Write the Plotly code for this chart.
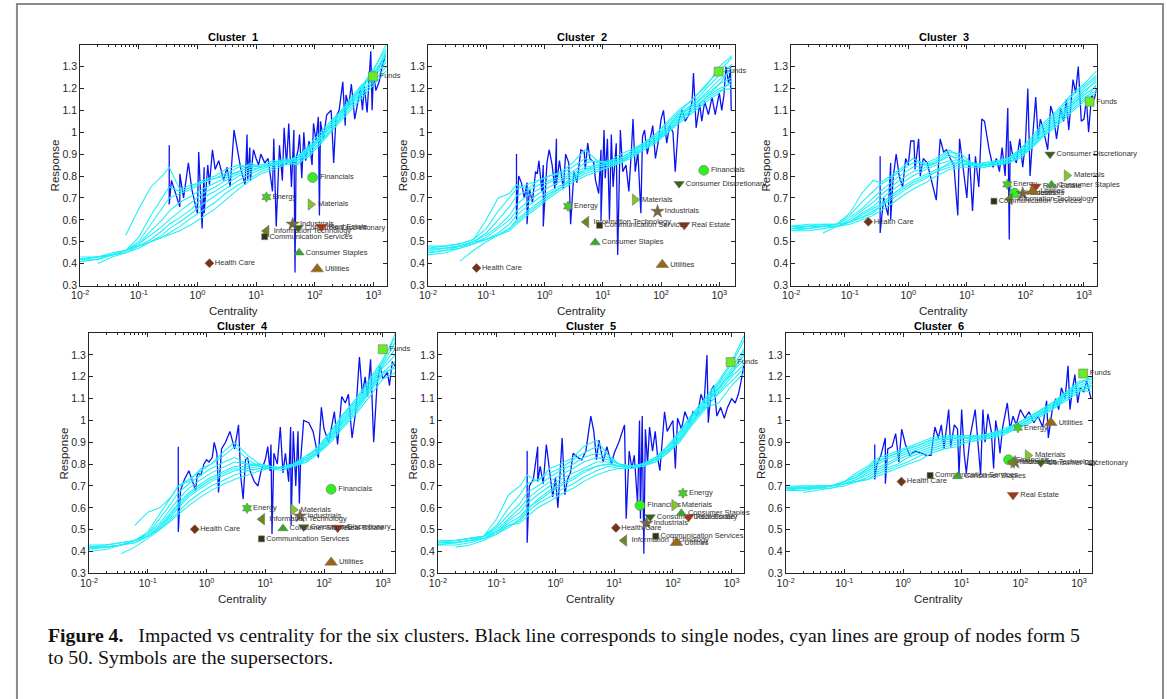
import plotly.graph_objects as go

W, H = 1167, 699

# ---------------- data ----------------
# common centrality grid for the cyan (group) curves
G = [0.01, 0.02, 0.035, 0.06, 0.1, 0.16, 0.25, 0.33, 0.5, 0.8, 1.2, 2, 3, 5, 8, 12, 20, 30, 50, 80, 130, 200, 350, 600, 1000, 1650]

c1_lines = [
    [None, None, None, 0.53, 0.65, 0.75, 0.80, 0.84, 0.74, 0.76, 0.77, 0.79, 0.80, 0.82, 0.86, 0.84, 0.86, 0.87, 0.85, 0.90, 0.96, 1.02, 1.10, 1.18, 1.28, 1.40],
    [0.42, 0.43, 0.44, 0.46, 0.52, 0.62, 0.70, 0.75, 0.73, 0.75, 0.78, 0.80, 0.83, 0.85, 0.84, 0.85, 0.87, 0.86, 0.88, 0.93, 0.98, 1.04, 1.12, 1.20, 1.29, 1.38],
    [0.41, 0.42, 0.44, 0.46, 0.50, 0.58, 0.65, 0.70, 0.72, 0.74, 0.77, 0.79, 0.81, 0.84, 0.85, 0.84, 0.86, 0.88, 0.87, 0.92, 0.99, 1.05, 1.11, 1.19, 1.27, 1.35],
    [0.42, 0.43, 0.45, 0.46, 0.49, 0.55, 0.60, 0.64, 0.68, 0.71, 0.74, 0.77, 0.79, 0.82, 0.84, 0.85, 0.85, 0.87, 0.88, 0.94, 1.00, 1.06, 1.12, 1.20, 1.27, 1.33],
    [0.43, 0.43, 0.44, 0.46, 0.49, 0.53, 0.57, 0.60, 0.64, 0.68, 0.72, 0.75, 0.78, 0.81, 0.83, 0.84, 0.86, 0.86, 0.89, 0.93, 0.99, 1.05, 1.13, 1.21, 1.26, 1.37],
    [0.41, 0.42, 0.44, 0.46, 0.48, 0.51, 0.55, 0.58, 0.61, 0.65, 0.70, 0.73, 0.76, 0.80, 0.82, 0.84, 0.85, 0.87, 0.88, 0.92, 0.97, 1.04, 1.11, 1.17, 1.25, 1.32],
    [None, 0.40, 0.43, 0.45, 0.48, 0.50, 0.53, 0.56, 0.59, 0.63, 0.67, 0.71, 0.74, 0.78, 0.81, 0.83, 0.85, 0.86, 0.87, 0.91, 0.98, 1.03, 1.10, 1.18, 1.24, 1.36],
    [0.42, 0.43, 0.44, 0.45, 0.47, 0.50, 0.52, 0.54, 0.57, 0.61, 0.64, 0.68, 0.72, 0.76, 0.79, 0.82, 0.84, 0.86, 0.87, 0.90, 0.96, 1.02, 1.09, 1.16, 1.23, 1.30],
    [0.42, 0.42, 0.44, 0.46, 0.48, 0.50, 0.52, 0.53, 0.55, 0.58, 0.61, 0.65, 0.69, 0.74, 0.78, 0.81, 0.83, 0.85, 0.86, 0.89, 0.95, 1.01, 1.08, 1.15, 1.22, 1.28],
]
c2_lines = [
    [0.48, 0.48, 0.49, 0.51, 0.60, 0.70, 0.72, 0.76, 0.74, 0.78, 0.80, 0.82, 0.86, 0.92, 0.87, 0.86, 0.90, 0.92, 0.95, 0.99, 1.05, 1.10, 1.15, 1.22, 1.28, 1.34],
    [0.47, 0.48, 0.49, 0.51, 0.56, 0.64, 0.70, 0.74, 0.76, 0.78, 0.80, 0.81, 0.84, 0.88, 0.86, 0.87, 0.88, 0.91, 0.94, 0.99, 1.04, 1.09, 1.15, 1.21, 1.30, 1.35],
    [0.46, 0.47, 0.48, 0.50, 0.54, 0.60, 0.66, 0.71, 0.73, 0.76, 0.78, 0.80, 0.82, 0.86, 0.87, 0.86, 0.88, 0.91, 0.95, 0.98, 1.03, 1.08, 1.13, 1.20, 1.26, 1.31],
    [0.45, 0.46, 0.48, 0.50, 0.53, 0.57, 0.62, 0.67, 0.71, 0.74, 0.77, 0.79, 0.81, 0.84, 0.85, 0.86, 0.87, 0.90, 0.94, 0.98, 1.02, 1.08, 1.12, 1.18, 1.24, 1.28],
    [0.45, 0.46, 0.47, 0.49, 0.52, 0.56, 0.60, 0.64, 0.68, 0.72, 0.75, 0.78, 0.80, 0.83, 0.85, 0.85, 0.87, 0.89, 0.93, 0.97, 1.02, 1.07, 1.12, 1.17, 1.22, 1.25],
    [0.44, 0.45, 0.47, 0.49, 0.51, 0.54, 0.58, 0.62, 0.66, 0.70, 0.73, 0.76, 0.79, 0.82, 0.84, 0.85, 0.86, 0.89, 0.93, 0.96, 1.01, 1.06, 1.11, 1.16, 1.20, 1.22],
    [None, None, 0.41, 0.46, 0.50, 0.53, 0.56, 0.60, 0.64, 0.68, 0.72, 0.75, 0.78, 0.81, 0.83, 0.84, 0.86, 0.89, 0.92, 0.96, 1.00, 1.05, 1.10, 1.15, 1.19, 1.20],
    [0.47, 0.47, 0.48, 0.50, 0.51, 0.53, 0.55, 0.58, 0.62, 0.66, 0.70, 0.74, 0.77, 0.80, 0.82, 0.84, 0.86, 0.88, 0.92, 0.95, 1.00, 1.04, 1.09, 1.14, 1.18, 1.24],
    [0.46, 0.47, 0.48, 0.49, 0.51, 0.53, 0.56, 0.59, 0.63, 0.67, 0.71, 0.75, 0.79, 0.83, 0.84, 0.85, 0.87, 0.90, 0.93, 0.97, 1.01, 1.06, 1.10, 1.16, 1.22, 1.30],
]
c3_lines = [
    [0.57, 0.58, 0.58, 0.58, 0.63, 0.72, 0.78, 0.77, 0.80, 0.84, 0.88, 0.85, 0.86, 0.90, 0.86, 0.85, 0.86, 0.86, 0.88, 0.92, 0.98, 1.04, 1.10, 1.17, 1.22, 1.28],
    [0.56, 0.57, 0.58, 0.58, 0.62, 0.68, 0.73, 0.76, 0.79, 0.83, 0.86, 0.86, 0.88, 0.92, 0.88, 0.85, 0.86, 0.87, 0.88, 0.92, 0.97, 1.03, 1.09, 1.16, 1.21, 1.26],
    [0.57, 0.57, 0.57, 0.58, 0.61, 0.65, 0.70, 0.73, 0.77, 0.81, 0.84, 0.85, 0.87, 0.91, 0.90, 0.86, 0.85, 0.86, 0.88, 0.91, 0.96, 1.02, 1.08, 1.14, 1.20, 1.25],
    [0.56, 0.56, 0.57, 0.57, 0.60, 0.64, 0.68, 0.71, 0.75, 0.79, 0.82, 0.84, 0.86, 0.89, 0.88, 0.86, 0.85, 0.86, 0.87, 0.91, 0.95, 1.01, 1.07, 1.13, 1.19, 1.23],
    [0.55, 0.56, 0.57, 0.57, 0.59, 0.63, 0.66, 0.69, 0.73, 0.77, 0.80, 0.83, 0.85, 0.87, 0.87, 0.86, 0.85, 0.86, 0.87, 0.90, 0.95, 1.00, 1.06, 1.12, 1.17, 1.21],
    [0.55, 0.55, 0.56, 0.57, 0.59, 0.62, 0.65, 0.67, 0.71, 0.75, 0.78, 0.81, 0.83, 0.85, 0.86, 0.85, 0.85, 0.85, 0.86, 0.89, 0.94, 0.99, 1.05, 1.11, 1.16, 1.19],
    [None, None, 0.54, 0.57, 0.59, 0.61, 0.63, 0.66, 0.69, 0.73, 0.76, 0.79, 0.82, 0.84, 0.85, 0.85, 0.84, 0.85, 0.86, 0.89, 0.93, 0.98, 1.04, 1.10, 1.15, 1.18],
    [0.57, 0.57, 0.57, 0.57, 0.58, 0.60, 0.62, 0.64, 0.67, 0.71, 0.74, 0.77, 0.80, 0.83, 0.84, 0.84, 0.84, 0.85, 0.86, 0.88, 0.93, 0.98, 1.03, 1.09, 1.14, 1.22],
    [0.56, 0.57, 0.57, 0.58, 0.59, 0.61, 0.64, 0.66, 0.70, 0.74, 0.77, 0.80, 0.82, 0.86, 0.86, 0.85, 0.85, 0.85, 0.87, 0.90, 0.94, 0.99, 1.05, 1.12, 1.18, 1.24],
]
c4_lines = [
    [None, None, None, 0.52, 0.58, 0.60, 0.65, 0.70, 0.72, 0.78, 0.80, 0.86, 0.90, 0.84, 0.80, 0.79, 0.78, 0.80, 0.83, 0.88, 0.95, 1.02, 1.10, 1.19, 1.28, 1.38],
    [0.43, 0.43, 0.44, 0.45, 0.49, 0.57, 0.65, 0.70, 0.73, 0.77, 0.80, 0.84, 0.88, 0.82, 0.79, 0.78, 0.78, 0.80, 0.83, 0.88, 0.95, 1.02, 1.09, 1.18, 1.27, 1.40],
    [0.42, 0.42, 0.43, 0.45, 0.48, 0.55, 0.62, 0.67, 0.71, 0.75, 0.78, 0.81, 0.83, 0.80, 0.80, 0.78, 0.77, 0.80, 0.84, 0.87, 0.94, 1.01, 1.08, 1.17, 1.26, 1.36],
    [0.41, 0.42, 0.43, 0.45, 0.48, 0.53, 0.60, 0.64, 0.69, 0.73, 0.76, 0.79, 0.81, 0.80, 0.79, 0.79, 0.78, 0.80, 0.83, 0.87, 0.93, 1.00, 1.07, 1.16, 1.25, 1.33],
    [0.40, 0.41, 0.43, 0.44, 0.47, 0.52, 0.58, 0.62, 0.67, 0.71, 0.74, 0.77, 0.79, 0.79, 0.80, 0.79, 0.78, 0.80, 0.82, 0.86, 0.92, 0.99, 1.06, 1.15, 1.24, 1.30],
    [0.41, 0.42, 0.43, 0.44, 0.47, 0.51, 0.56, 0.60, 0.65, 0.69, 0.72, 0.75, 0.77, 0.78, 0.79, 0.79, 0.78, 0.79, 0.82, 0.86, 0.92, 0.98, 1.05, 1.14, 1.22, 1.27],
    [None, None, 0.39, 0.42, 0.46, 0.50, 0.55, 0.58, 0.63, 0.67, 0.70, 0.73, 0.75, 0.77, 0.78, 0.78, 0.78, 0.79, 0.81, 0.85, 0.91, 0.97, 1.04, 1.13, 1.21, 1.25],
    [0.42, 0.43, 0.44, 0.45, 0.47, 0.50, 0.54, 0.57, 0.61, 0.65, 0.68, 0.71, 0.73, 0.75, 0.77, 0.78, 0.78, 0.79, 0.81, 0.85, 0.90, 0.96, 1.03, 1.11, 1.19, 1.22],
    [0.42, 0.42, 0.43, 0.45, 0.47, 0.51, 0.57, 0.61, 0.66, 0.70, 0.73, 0.76, 0.78, 0.77, 0.78, 0.78, 0.79, 0.80, 0.82, 0.86, 0.92, 0.99, 1.06, 1.15, 1.22, 1.24],
]
c5_lines = [
    [0.45, 0.45, 0.46, 0.47, 0.55, 0.66, 0.70, 0.75, 0.72, 0.78, 0.80, 0.83, 0.88, 0.91, 0.84, 0.80, 0.79, 0.80, 0.83, 0.88, 0.95, 1.02, 1.10, 1.18, 1.27, 1.39],
    [0.44, 0.45, 0.46, 0.47, 0.52, 0.60, 0.66, 0.71, 0.73, 0.76, 0.78, 0.82, 0.85, 0.88, 0.84, 0.80, 0.78, 0.80, 0.83, 0.88, 0.94, 1.01, 1.09, 1.17, 1.26, 1.37],
    [0.44, 0.44, 0.45, 0.47, 0.51, 0.57, 0.62, 0.67, 0.70, 0.74, 0.77, 0.80, 0.83, 0.85, 0.83, 0.80, 0.79, 0.79, 0.83, 0.87, 0.94, 1.01, 1.08, 1.16, 1.24, 1.33],
    [0.43, 0.44, 0.45, 0.47, 0.50, 0.55, 0.60, 0.64, 0.68, 0.72, 0.75, 0.78, 0.81, 0.83, 0.82, 0.80, 0.79, 0.80, 0.82, 0.87, 0.93, 1.00, 1.08, 1.15, 1.23, 1.30],
    [0.44, 0.44, 0.45, 0.46, 0.49, 0.54, 0.58, 0.62, 0.66, 0.70, 0.73, 0.76, 0.78, 0.81, 0.81, 0.79, 0.79, 0.79, 0.82, 0.86, 0.92, 0.99, 1.07, 1.14, 1.22, 1.28],
    [0.43, 0.43, 0.44, 0.46, 0.49, 0.53, 0.56, 0.60, 0.63, 0.67, 0.70, 0.73, 0.76, 0.79, 0.80, 0.79, 0.79, 0.80, 0.82, 0.86, 0.92, 0.99, 1.06, 1.12, 1.18, 1.24],
    [None, 0.42, 0.43, 0.45, 0.48, 0.52, 0.54, 0.58, 0.62, 0.65, 0.68, 0.71, 0.74, 0.77, 0.79, 0.78, 0.79, 0.79, 0.81, 0.85, 0.91, 0.98, 1.06, 1.08, 1.16, 1.22],
    [0.45, 0.45, 0.46, 0.47, 0.49, 0.52, 0.53, 0.56, 0.60, 0.63, 0.66, 0.69, 0.72, 0.75, 0.77, 0.78, 0.78, 0.79, 0.81, 0.85, 0.90, 0.97, 1.05, 1.13, 1.20, 1.26],
    [0.44, 0.44, 0.45, 0.46, 0.48, 0.51, 0.55, 0.59, 0.64, 0.68, 0.71, 0.74, 0.77, 0.79, 0.80, 0.79, 0.79, 0.80, 0.82, 0.86, 0.91, 0.98, 1.07, 1.15, 1.21, 1.32],
]
c6_lines = [
    [0.70, 0.70, 0.70, 0.70, 0.72, 0.76, 0.79, 0.82, 0.84, 0.86, 0.88, 0.90, 0.92, 0.93, 0.93, 0.92, 0.93, 0.94, 0.95, 0.98, 1.01, 1.04, 1.08, 1.13, 1.17, 1.20],
    [0.69, 0.70, 0.70, 0.70, 0.72, 0.75, 0.78, 0.81, 0.83, 0.85, 0.87, 0.89, 0.91, 0.92, 0.92, 0.93, 0.93, 0.94, 0.95, 0.98, 1.01, 1.04, 1.08, 1.12, 1.17, 1.19],
    [0.69, 0.69, 0.70, 0.70, 0.72, 0.74, 0.77, 0.79, 0.82, 0.84, 0.86, 0.88, 0.90, 0.92, 0.92, 0.92, 0.93, 0.93, 0.95, 0.97, 1.00, 1.03, 1.07, 1.12, 1.16, 1.18],
    [0.69, 0.69, 0.69, 0.70, 0.71, 0.73, 0.76, 0.78, 0.80, 0.83, 0.85, 0.87, 0.89, 0.91, 0.92, 0.92, 0.92, 0.93, 0.95, 0.97, 1.00, 1.03, 1.07, 1.11, 1.15, 1.17],
    [0.68, 0.69, 0.69, 0.70, 0.71, 0.73, 0.75, 0.77, 0.79, 0.82, 0.84, 0.86, 0.88, 0.90, 0.91, 0.92, 0.92, 0.93, 0.94, 0.97, 1.00, 1.03, 1.06, 1.11, 1.15, 1.16],
    [0.68, 0.68, 0.69, 0.69, 0.71, 0.72, 0.74, 0.76, 0.78, 0.80, 0.83, 0.85, 0.87, 0.89, 0.90, 0.91, 0.92, 0.92, 0.94, 0.96, 0.99, 1.02, 1.06, 1.10, 1.14, 1.15],
    [None, 0.67, 0.68, 0.69, 0.70, 0.72, 0.73, 0.75, 0.77, 0.79, 0.81, 0.84, 0.86, 0.88, 0.89, 0.90, 0.91, 0.92, 0.94, 0.96, 0.99, 1.02, 1.05, 1.10, 1.14, 1.13],
    [0.69, 0.69, 0.70, 0.70, 0.71, 0.72, 0.73, 0.74, 0.76, 0.78, 0.80, 0.82, 0.85, 0.87, 0.88, 0.90, 0.91, 0.92, 0.93, 0.96, 0.98, 1.01, 1.05, 1.09, 1.13, 1.16],
    [0.69, 0.69, 0.69, 0.70, 0.72, 0.74, 0.78, 0.80, 0.83, 0.85, 0.87, 0.89, 0.91, 0.92, 0.93, 0.93, 0.93, 0.94, 0.96, 0.98, 1.01, 1.04, 1.08, 1.13, 1.18, 1.19],
]

# single-node (blue) curves
b1_x = [0.33, 0.33, 0.36, 0.42, 0.5, 0.5, 0.58, 0.7, 0.8, 0.9, 1.0, 1.05, 1.2, 1.3, 1.3, 1.5, 1.6, 1.8, 2.0, 2.3, 2.8, 3.2, 3.6, 4.2, 4.8, 5.5, 6.5, 7.0, 7.2, 7.8, 8.0, 9.0, 10, 11, 12, 14, 16, 19, 20, 22, 25, 28, 30, 33, 36, 40, 44, 46, 48, 52, 55, 60, 65, 70, 80, 90, 95, 105, 115, 120, 125, 140, 160, 190, 210, 230, 260, 300, 330, 340, 380, 420, 480, 520, 600, 650, 700, 780, 850, 900, 950, 1000, 1100, 1250, 1400, 1600]
b1_y = [0.94, 0.67, 0.78, 0.72, 0.66, 0.81, 0.70, 0.86, 0.74, 0.68, 0.63, 0.91, 0.56, 0.84, 0.63, 0.85, 0.76, 0.92, 0.83, 0.87, 0.78, 0.84, 0.75, 1.01, 0.92, 0.83, 0.76, 0.99, 0.78, 0.93, 0.78, 0.92, 0.88, 0.85, 0.90, 0.86, 0.88, 0.73, 0.97, 0.57, 0.94, 0.78, 1.02, 0.85, 1.04, 0.75, 1.01, 0.36, 0.88, 0.92, 0.99, 0.79, 1.00, 0.87, 0.96, 0.85, 1.04, 0.96, 1.07, 0.62, 1.05, 0.97, 1.08, 1.10, 0.86, 1.07, 1.10, 1.23, 1.03, 1.17, 1.12, 1.22, 1.06, 1.11, 1.20, 1.10, 1.21, 1.09, 1.25, 1.37, 1.10, 1.28, 1.19, 1.23, 1.30, 1.35]

b2_x = [0.33, 0.33, 0.36, 0.40, 0.45, 0.5, 0.5, 0.55, 0.62, 0.7, 0.75, 0.8, 0.9, 0.95, 0.95, 1.1, 1.2, 1.35, 1.5, 1.6, 1.6, 1.8, 2.1, 2.3, 2.6, 2.8, 3.2, 3.6, 4.2, 4.8, 5.0, 5.5, 6.0, 7.0, 7.5, 8.5, 9.3, 9.3, 10.5, 11, 12, 13, 14, 15, 17, 18, 20, 22, 25, 28, 31, 33, 36, 40, 45, 48, 52, 58, 65, 72, 80, 90, 100, 110, 125, 140, 160, 175, 200, 230, 260, 300, 340, 360, 400, 460, 500, 560, 650, 750, 850, 1000, 1100, 1200, 1300, 1450, 1550, 1600]
b2_y = [0.90, 0.60, 0.80, 0.77, 0.70, 0.77, 0.58, 0.74, 0.68, 0.82, 0.81, 0.87, 0.73, 0.85, 0.57, 0.86, 0.92, 0.85, 0.74, 0.97, 0.76, 0.87, 0.74, 0.90, 0.86, 0.58, 0.82, 0.77, 0.92, 0.91, 0.83, 0.95, 0.88, 0.86, 0.78, 0.72, 0.92, 0.60, 1.01, 0.79, 0.97, 0.60, 0.99, 0.75, 0.95, 0.44, 1.01, 0.82, 0.85, 0.73, 0.92, 1.06, 0.82, 0.91, 0.63, 0.98, 1.01, 0.90, 0.97, 1.03, 0.88, 0.96, 1.06, 1.10, 0.95, 1.03, 1.00, 0.82, 1.05, 1.10, 1.05, 1.08, 1.14, 1.27, 1.02, 1.13, 1.05, 1.14, 1.08, 1.16, 1.08, 1.18, 1.10, 1.17, 1.30, 1.22, 1.30, 1.10]

b3_x = [0.33, 0.33, 0.38, 0.45, 0.5, 0.5, 0.55, 0.62, 0.7, 0.8, 0.9, 1.0, 1.1, 1.25, 1.3, 1.5, 1.6, 1.8, 2.1, 2.5, 3.0, 3.5, 4.0, 4.5, 5.2, 6.0, 7.0, 7.5, 8.5, 10, 11, 12.5, 14, 16, 18, 20, 24, 28, 32, 36, 40, 45, 50, 53, 55, 60, 70, 80, 90, 100, 110, 120, 135, 150, 165, 180, 200, 240, 270, 300, 340, 400, 450, 500, 550, 650, 720, 800, 900, 1000, 1100, 1200, 1350, 1500, 1650]
b3_y = [0.89, 0.54, 0.70, 0.62, 0.86, 0.60, 0.79, 0.90, 0.80, 0.75, 0.88, 0.85, 0.96, 0.96, 0.83, 0.97, 0.80, 0.88, 0.86, 0.78, 0.69, 0.97, 0.91, 0.92, 0.88, 0.85, 0.62, 0.97, 0.86, 0.70, 0.90, 0.64, 0.89, 0.75, 1.06, 1.05, 0.92, 0.84, 0.88, 0.82, 0.93, 0.80, 1.11, 0.51, 0.96, 0.90, 0.86, 0.97, 0.84, 0.95, 1.20, 0.80, 1.00, 1.16, 0.97, 1.06, 1.02, 0.92, 1.12, 1.08, 0.97, 1.11, 1.05, 1.15, 1.01, 1.24, 1.18, 1.30, 1.05, 1.06, 1.15, 1.00, 1.17, 1.15, 1.20]

b4_x = [0.33, 0.33, 0.36, 0.42, 0.5, 0.58, 0.65, 0.7, 0.8, 0.9, 1.0, 1.1, 1.25, 1.35, 1.5, 1.6, 1.8, 2.1, 2.5, 3.0, 3.5, 3.8, 4.2, 4.6, 5.0, 5.5, 6.5, 7.5, 8.5, 10, 11, 12, 12.5, 13, 14, 16, 18, 20, 22, 25, 27, 27.5, 30, 33, 36, 38, 40, 45, 55, 65, 80, 90, 100, 120, 150, 170, 200, 230, 260, 300, 350, 400, 450, 500, 550, 620, 700, 800, 900, 1000, 1200, 1300, 1450, 1600]
b4_y = [0.88, 0.49, 0.68, 0.73, 0.77, 0.72, 0.68, 0.76, 0.75, 0.80, 0.82, 0.81, 0.83, 0.90, 0.85, 0.67, 0.87, 0.90, 0.95, 0.87, 0.98, 0.75, 0.64, 0.82, 0.83, 0.77, 0.72, 0.70, 0.77, 0.82, 0.88, 0.77, 0.89, 0.48, 0.85, 0.80, 0.97, 0.76, 0.85, 0.72, 0.97, 0.52, 0.95, 0.70, 0.95, 0.62, 0.82, 1.00, 0.99, 0.95, 0.83, 1.06, 0.96, 0.90, 1.04, 0.89, 1.11, 1.08, 1.12, 0.92, 1.05, 1.29, 1.12, 1.20, 1.11, 1.28, 0.90, 1.17, 1.25, 1.19, 1.22, 1.16, 1.27, 1.25]

b5_x = [0.33, 0.33, 0.36, 0.42, 0.5, 0.5, 0.55, 0.62, 0.7, 0.8, 0.9, 1.0, 1.1, 1.2, 1.3, 1.45, 1.6, 1.8, 2.0, 2.4, 2.8, 3.3, 4.0, 4.5, 5.0, 5.5, 6.5, 7.5, 9.0, 10, 12, 15, 16, 18, 20, 22, 25, 27, 28, 30, 32, 34, 37, 40, 45, 50, 55, 60, 65, 72, 80, 90, 100, 110, 120, 140, 160, 190, 220, 260, 300, 340, 380, 400, 450, 500, 560, 650, 750, 850, 1000, 1150, 1300, 1450, 1600]
b5_y = [0.86, 0.44, 0.70, 0.73, 0.88, 0.72, 0.79, 0.71, 0.89, 0.77, 0.65, 0.74, 0.60, 0.76, 0.92, 0.66, 0.73, 0.76, 0.85, 0.83, 0.82, 0.86, 1.02, 0.95, 0.82, 0.91, 0.81, 0.88, 0.80, 0.85, 0.90, 0.98, 0.55, 0.86, 0.78, 0.84, 0.62, 1.00, 0.55, 1.02, 0.39, 0.96, 0.80, 0.97, 0.86, 0.95, 0.83, 0.77, 0.90, 1.04, 0.95, 0.98, 1.00, 0.78, 1.01, 0.96, 1.04, 0.99, 1.04, 1.02, 1.12, 1.08, 1.30, 0.99, 1.14, 1.16, 1.02, 1.06, 1.01, 1.06, 1.10, 1.08, 1.12, 1.18, 1.25]

b6_x = [0.33, 0.33, 0.36, 0.42, 0.5, 0.5, 0.55, 0.65, 0.75, 0.85, 0.95, 1.1, 1.3, 1.6, 2.0, 2.5, 3.0, 3.5, 4.0, 4.5, 5.0, 5.5, 6.0, 6.5, 7.5, 8.5, 9.0, 10, 11, 12, 14, 17, 19, 21, 23, 25, 28, 32, 35, 38, 42, 45, 50, 60, 67, 75, 85, 100, 120, 140, 170, 200, 240, 280, 300, 350, 400, 450, 500, 580, 650, 700, 780, 850, 950, 1050, 1200, 1350, 1600]
b6_y = [0.89, 0.73, 0.80, 0.84, 0.92, 0.71, 0.87, 0.88, 0.94, 0.81, 0.96, 0.89, 0.84, 0.86, 0.85, 0.84, 0.84, 0.97, 0.92, 0.98, 0.87, 0.96, 1.05, 0.88, 0.98, 0.96, 0.75, 1.05, 0.85, 0.76, 0.93, 1.05, 0.88, 0.75, 1.05, 0.90, 1.03, 0.95, 0.78, 1.00, 0.93, 0.85, 0.97, 1.08, 0.96, 1.02, 0.98, 1.05, 1.01, 1.04, 0.99, 1.02, 0.97, 1.09, 0.92, 1.05, 1.10, 1.05, 1.15, 1.10, 1.25, 1.05, 1.15, 1.21, 1.08, 1.15, 1.13, 1.18, 1.10]

# supersector markers
sectors = ["Funds", "Financials", "Energy", "Materials", "Industrials", "Information Technology",
           "Consumer Discretionary", "Real Estate", "Communication Services", "Consumer Staples",
           "Utilities", "Health Care"]
s1_x = [980, 92, 15, 85, 42, 15, 52, 130, 14, 54, 110, 1.6]
s1_y = [1.255, 0.793, 0.704, 0.67, 0.58, 0.549, 0.564, 0.568, 0.523, 0.45, 0.375, 0.402]
s2_x = [975, 541, 2.53, 35.5, 87, 5.2, 204, 250, 8.8, 7.4, 105, 0.068]
s2_y = [1.277, 0.826, 0.662, 0.692, 0.638, 0.59, 0.765, 0.576, 0.575, 0.496, 0.395, 0.38]
s3_x = [1250, 65, 49, 508, 90, 54, 263, 148, 29, 279, 133, 0.207]
s3_y = [1.139, 0.722, 0.762, 0.802, 0.72, 0.695, 0.899, 0.752, 0.685, 0.76, 0.73, 0.591]
s4_x = [1000, 132, 4.9, 30, 39, 8.8, 45, 170, 8.6, 20, 132, 0.63]
s4_y = [1.326, 0.685, 0.598, 0.591, 0.562, 0.548, 0.512, 0.509, 0.458, 0.505, 0.35, 0.502]
s5_x = [960, 27.5, 148, 106, 35.5, 14.8, 41, 185, 51, 139, 115, 10.7]
s5_y = [1.267, 0.611, 0.667, 0.612, 0.529, 0.45, 0.558, 0.558, 0.47, 0.575, 0.44, 0.508]
s6_x = [1180, 63, 91, 134, 81, 72, 224, 75, 2.9, 8.5, 330, 0.94]
s6_y = [1.215, 0.82, 0.967, 0.84, 0.808, 0.808, 0.806, 0.659, 0.748, 0.744, 0.99, 0.72]

x_tick_vals = [0.01, 0.1, 1, 10, 100, 1000]
x_tick_text = ["10<sup>-2</sup>", "10<sup>-1</sup>", "10<sup>0</sup>", "10<sup>1</sup>", "10<sup>2</sup>", "10<sup>3</sup>"]
y_tick_vals = [0.3, 0.4, 0.5, 0.6, 0.7, 0.8, 0.9, 1.0, 1.1, 1.2, 1.3]
y_tick_text = ["0.3", "0.4", "0.5", "0.6", "0.7", "0.8", "0.9", "1", "1.1", "1.2", "1.3"]

# ---------------- styling ----------------
sym = {"Funds": "square", "Financials": "circle", "Energy": "hexagram", "Materials": "triangle-right",
       "Industrials": "star", "Information Technology": "triangle-left",
       "Consumer Discretionary": "triangle-down", "Real Estate": "triangle-down",
       "Communication Services": "square", "Consumer Staples": "triangle-up",
       "Utilities": "triangle-up", "Health Care": "diamond"}
col = {"Funds": "#66ee22", "Financials": "#33ee22", "Energy": "#44cc22", "Materials": "#80c828",
       "Industrials": "#776640", "Information Technology": "#668822",
       "Consumer Discretionary": "#336611", "Real Estate": "#aa3311",
       "Communication Services": "#333311", "Consumer Staples": "#33aa22",
       "Utilities": "#996611", "Health Care": "#773311"}
size = {"Funds": 9, "Financials": 10, "Energy": 8, "Materials": 10, "Industrials": 10,
        "Information Technology": 10, "Consumer Discretionary": 9, "Real Estate": 10,
        "Communication Services": 6, "Consumer Staples": 9, "Utilities": 11, "Health Care": 7}

cyan_sets = [c1_lines, c2_lines, c3_lines, c4_lines, c5_lines, c6_lines]
blue_sets = [(b1_x, b1_y), (b2_x, b2_y), (b3_x, b3_y), (b4_x, b4_y), (b5_x, b5_y), (b6_x, b6_y)]
sec_sets = [(s1_x, s1_y), (s2_x, s2_y), (s3_x, s3_y), (s4_x, s4_y), (s5_x, s5_y), (s6_x, s6_y)]

# plot-area pixel boxes: (left, right, top, bottom), x-range upper log bound
boxes = [(71.7, 380.7, 45, 288, 3.227), (422.3, 731.7, 45, 288, 3.27), (788.3, 1096, 45, 288, 3.215),
         (80.7, 389.3, 336, 578.3, 3.213), (432.3, 740.7, 336, 578.3, 3.21), (782.7, 1091.7, 336, 578.3, 3.226)]

minor_vals = [m * 10 ** e for e in range(-2, 4) for m in range(2, 10)]

AX = "#262626"
FONT = "Liberation Sans, Arial, sans-serif"

fig = go.Figure()
layout = dict(width=W, height=H, margin=dict(l=0, r=0, t=0, b=0),
              paper_bgcolor="white", plot_bgcolor="white", showlegend=False)
annotations = []

for i in range(6):
    n = i + 1
    xa = "x" if n == 1 else f"x{n}"
    ya = "y" if n == 1 else f"y{n}"
    L, R, T, B, xr = boxes[i]
    layout["xaxis" if n == 1 else f"xaxis{n}"] = dict(
        type="log", range=[-2, xr], domain=[L / W, R / W], anchor=ya,
        showline=True, linecolor=AX, linewidth=1, mirror="ticks",
        ticks="inside", ticklen=4, tickcolor=AX, tickwidth=1,
        tickvals=x_tick_vals, ticktext=x_tick_text,
        tickfont=dict(family=FONT, size=10.5, color=AX),
        showgrid=False, zeroline=False,
        minor=dict(tickmode="array", tickvals=minor_vals, ticks="inside", ticklen=2,
                   tickcolor=AX, tickwidth=1, showgrid=False))
    layout["yaxis" if n == 1 else f"yaxis{n}"] = dict(
        range=[0.3, 1.4], domain=[1 - B / H, 1 - T / H], anchor=xa,
        showline=True, linecolor=AX, linewidth=1, mirror="ticks",
        ticks="inside", ticklen=4, tickcolor=AX, tickwidth=1,
        tickvals=y_tick_vals, ticktext=y_tick_text,
        tickfont=dict(family=FONT, size=10.5, color=AX),
        showgrid=False, zeroline=False)

    bx, by = blue_sets[i]
    fig.add_trace(go.Scatter(x=bx, y=by, mode="lines", xaxis=xa, yaxis=ya,
                             line=dict(color="#0a14f0", width=1.3), hoverinfo="skip"))
    for ln in cyan_sets[i]:
        fig.add_trace(go.Scatter(x=G, y=ln, mode="lines", xaxis=xa, yaxis=ya,
                                 line=dict(color="#1ff0f8", width=1.1), connectgaps=False,
                                 hoverinfo="skip"))
    sx, sy = sec_sets[i]
    for k, name in enumerate(sectors):
        fig.add_trace(go.Scatter(
            x=[sx[k]], y=[sy[k]], mode="markers+text", xaxis=xa, yaxis=ya,
            text=[name], textposition="middle right", cliponaxis=False,
            textfont=dict(family=FONT, size=7.5, color="#333333"),
            marker=dict(symbol=sym[name], size=size[name], color=col[name],
                        line=dict(color="rgba(110,110,110,0.55)", width=1))))

    cx = (L + R) / 2 / W
    annotations.append(dict(x=cx, y=1 - (T - 7.5) / H, xref="paper", yref="paper",
                            text=f"<b>Cluster  {n}</b>", showarrow=False,
                            font=dict(family=FONT, size=11, color="black"),
                            xanchor="center", yanchor="middle"))
    annotations.append(dict(x=cx, y=1 - (B + 26) / H, xref="paper", yref="paper",
                            text="Centrality", showarrow=False,
                            font=dict(family=FONT, size=11.5, color=AX),
                            xanchor="center", yanchor="middle"))
    annotations.append(dict(x=(L - 25) / W, y=1 - (T + B) / 2 / H, xref="paper", yref="paper",
                            text="Response", showarrow=False, textangle=-90,
                            font=dict(family=FONT, size=11.5, color=AX),
                            xanchor="center", yanchor="middle"))

SERIF = "Liberation Serif, Times New Roman, serif"
annotations.append(dict(x=37 / W, y=1 - 641 / H, xref="paper", yref="paper", showarrow=False,
                        xanchor="left", yanchor="middle",
                        text="<b>Figure 4.</b>\u2002 Impacted vs centrality for the six clusters. Black line corresponds to single nodes, cyan lines are group of nodes form 5",
                        font=dict(family=SERIF, size=19.8, color="#111111")))
annotations.append(dict(x=37 / W, y=1 - 663 / H, xref="paper", yref="paper", showarrow=False,
                        xanchor="left", yanchor="middle",
                        text="to 50. Symbols are the supersectors.",
                        font=dict(family=SERIF, size=19.8, color="#111111")))
layout["annotations"] = annotations
layout["shapes"] = [dict(type="rect", xref="paper", yref="paper",
                         x0=8 / W, x1=1163 / W, y0=-0.05, y1=1 - 4 / H,
                         line=dict(color="#8a8a8a", width=2), fillcolor="rgba(0,0,0,0)", layer="below")]

fig.update_layout(**layout)
fig.write_html("out.html", config={"displayModeBar": False},
               post_script="document.body.style.margin='0';document.body.style.overflow='hidden';")
